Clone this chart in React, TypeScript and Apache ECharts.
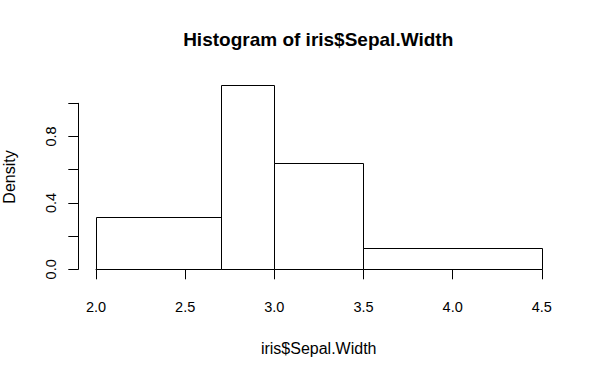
import React, { useEffect, useRef } from "react";
import * as echarts from "echarts";

// Histogram of iris$Sepal.Width (R default breaks as in reference)
const binStarts = [2.0, 2.7, 3.0, 3.5];
const binEnds = [2.7, 3.0, 3.5, 4.5];
const densities = [0.3143, 1.1111, 0.64, 0.1267];

const xTicks = [2.0, 2.5, 3.0, 3.5, 4.0, 4.5];
const yTickLabels = ["0.0", "", "0.4", "", "0.8", ""];

const titleText = "Histogram of iris$Sepal.Width";
const xTitle = "iris$Sepal.Width";
const yTitle = "Density";

const FONT = "'Liberation Sans', Arial, Helvetica, sans-serif";

export default function App() {
  const ref = useRef<HTMLDivElement>(null);

  useEffect(() => {
    if (!ref.current) return;
    const chart = echarts.init(ref.current, null, { renderer: "svg" });
    const data = binStarts.map((s, i) => [s, binEnds[i], densities[i]]);

    chart.setOption({
      animation: false,
      backgroundColor: "#ffffff",
      grid: { left: 96, right: 58.2, top: 103.3, bottom: 105.7, containLabel: false },
      xAxis: {
        type: "value",
        min: xTicks[0],
        max: xTicks[xTicks.length - 1],
        interval: 0.5,
        offset: 7.4,
        splitLine: { show: false },
        axisLine: { show: true, lineStyle: { color: "#000", width: 1 } },
        axisTick: { show: true, length: 10, lineStyle: { color: "#000", width: 1 } },
        axisLabel: {
          color: "#000",
          fontFamily: FONT,
          fontSize: 14.5,
          margin: 23,
          formatter: (v: number) => v.toFixed(1),
        },
      },
      yAxis: {
        type: "value",
        min: 0,
        max: 1,
        interval: 0.2,
        offset: 17.7,
        splitLine: { show: false },
        axisLine: { show: true, lineStyle: { color: "#000", width: 1 } },
        axisTick: { show: true, length: 10, lineStyle: { color: "#000", width: 1 } },
        axisLabel: {
          color: "#000",
          fontFamily: FONT,
          fontSize: 14.5,
          margin: 20,
          rotate: 90,
          formatter: (_v: number, i: number) => yTickLabels[i] ?? "",
        },
      },
      graphic: [
        {
          type: "text",
          x: 318.2,
          y: 39.7,
          style: {
            text: titleText,
            fontFamily: FONT,
            fontSize: 19,
            fontWeight: "bold",
            fill: "#000",
            align: "center",
            verticalAlign: "middle",
          },
        },
        {
          type: "text",
          x: 318.7,
          y: 348.5,
          style: {
            text: xTitle,
            fontFamily: FONT,
            fontSize: 16,
            fill: "#000",
            align: "center",
            verticalAlign: "middle",
          },
        },
        {
          type: "text",
          x: 9.5,
          y: 177,
          rotation: Math.PI / 2,
          style: {
            text: yTitle,
            fontFamily: FONT,
            fontSize: 16,
            fill: "#000",
            align: "center",
            verticalAlign: "middle",
          },
        },
      ],
      series: [
        {
          type: "custom",
          clip: false,
          data,
          renderItem: (_params: any, api: any) => {
            const p1 = api.coord([api.value(0), api.value(2)]);
            const p2 = api.coord([api.value(1), 0]);
            const x1 = Math.round(p1[0]) + 0.5;
            const y1 = Math.round(p1[1]) + 0.5;
            const x2 = Math.round(p2[0]) + 0.5;
            const y2 = Math.round(p2[1]) + 0.5;
            return {
              type: "rect",
              shape: { x: x1, y: y1, width: x2 - x1, height: y2 - y1 },
              style: { fill: "#fff", stroke: "#000", lineWidth: 1 },
            };
          },
        },
      ],
    });

    return () => chart.dispose();
  }, []);

  return (
    <div
      ref={ref}
      style={{ position: "fixed", left: 0, top: 0, width: 600, height: 375, background: "#fff" }}
    />
  );
}
